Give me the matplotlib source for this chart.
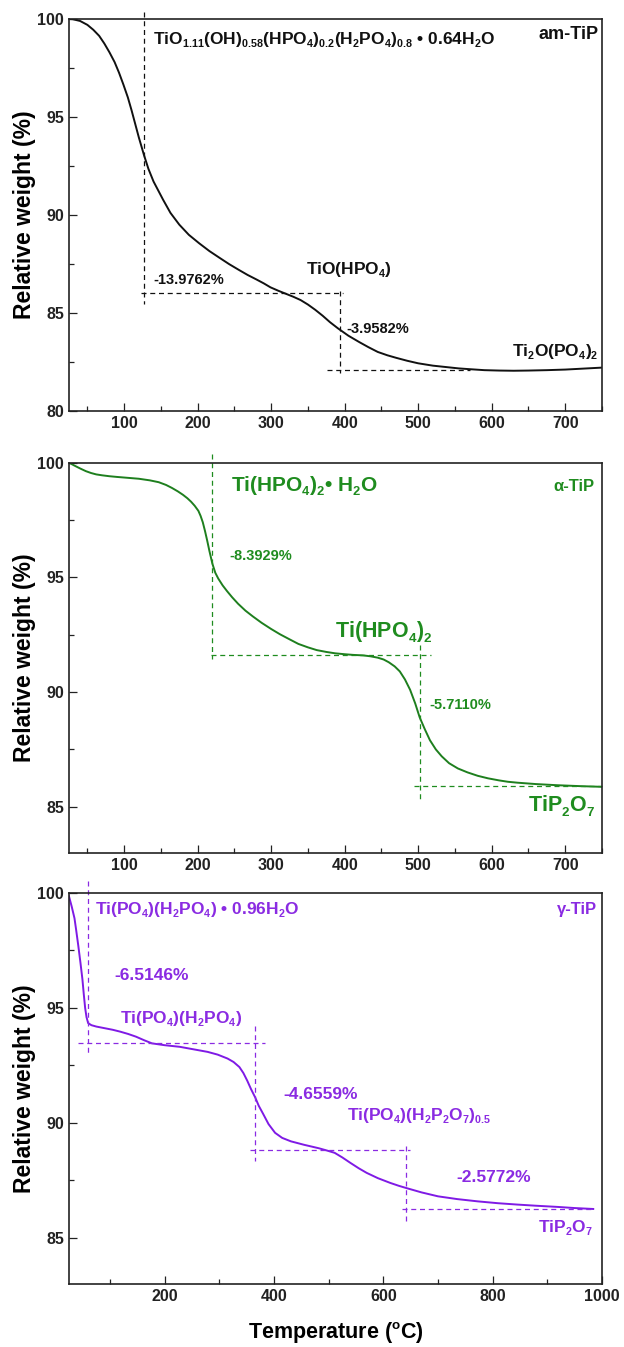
import matplotlib
matplotlib.use("Agg")
import matplotlib.pyplot as plt
from matplotlib.ticker import MultipleLocator

# smaller, lower subscripts (closer to the original figure)
try:
    import matplotlib._mathtext as mt
    mt.SHRINK_FACTOR = 0.62
    mt.FontConstantsBase.sub1 = 0.42
    mt.FontConstantsBase.sub2 = 0.55
except Exception:
    pass

# --- data ---
am_T = [25, 30, 40, 50, 58, 66, 73, 80, 87, 93, 99, 105, 110, 115, 120, 127, 133, 140, 147,
        153, 163, 175, 188, 202, 216, 230, 243, 256, 268, 280, 290, 299, 310, 320, 330, 340,
        350, 360, 370, 380, 391, 405, 420, 432, 445, 458, 470, 485, 500, 520, 540, 555, 570,
        590, 610, 630, 650, 675, 700, 725, 750]
am_W = [100, 99.99, 99.9, 99.7, 99.45, 99.14, 98.75, 98.3, 97.8, 97.26, 96.65, 96.0, 95.35,
        94.65, 93.95, 93.05, 92.35, 91.7, 91.2, 90.77, 90.1, 89.5, 88.98, 88.55, 88.15, 87.8,
        87.48, 87.19, 86.93, 86.7, 86.5, 86.3, 86.12, 85.97, 85.82, 85.65, 85.42, 85.15,
        84.85, 84.52, 84.2, 83.83, 83.5, 83.25, 83.0, 82.83, 82.7, 82.55, 82.42, 82.3, 82.22,
        82.16, 82.12, 82.07, 82.05, 82.04, 82.05, 82.07, 82.1, 82.15, 82.2]

alpha_T = [25, 32, 40, 48, 55, 62, 70, 80, 90, 105, 120, 135, 147, 157, 165, 173, 180, 186,
           191, 196, 201, 204, 207, 210, 213, 216, 220, 224, 228, 234, 240, 247, 255, 265,
           275, 287, 300, 312, 325, 337, 350, 362, 375, 387, 400, 412, 425, 435, 445, 453,
           460, 468, 475, 482, 489, 496, 502, 509, 516, 524, 532, 542, 554, 567, 581, 595,
           610, 622, 635, 660, 689, 720, 750]
alpha_W = [100, 99.88, 99.75, 99.63, 99.55, 99.49, 99.45, 99.41, 99.38, 99.34, 99.3, 99.23,
           99.15, 99.03, 98.9, 98.75, 98.6, 98.45, 98.3, 98.12, 97.9, 97.68, 97.4, 97.02,
           96.6, 96.15, 95.6, 95.2, 94.95, 94.65, 94.4, 94.13, 93.85, 93.55, 93.3, 93.02,
           92.75, 92.52, 92.3, 92.1, 91.95, 91.83, 91.75, 91.69, 91.65, 91.62, 91.6, 91.56,
           91.5, 91.42, 91.3, 91.12, 90.9, 90.55, 90.1, 89.5, 88.9, 88.38, 87.9, 87.5, 87.2,
           86.9, 86.67, 86.5, 86.35, 86.24, 86.15, 86.09, 86.05, 85.99, 85.94, 85.9, 85.87]

gamma_T = [25, 30, 35, 38, 42, 46, 49.5, 52, 54.5, 57, 60, 66, 75, 90, 105, 118.5, 133,
           147.6, 162, 176.7, 200, 227.6, 253, 278.5, 297, 315, 326, 336.7, 344, 351, 358,
           365.8, 372, 380, 390, 402, 415, 431, 455, 482, 497, 511, 525, 540, 555, 569.5,
           590, 613, 628, 642, 670, 700, 735, 773, 810, 846, 880, 918.5, 950, 984]
gamma_W = [99.85, 99.4, 98.9, 98.4, 97.7, 96.95, 96.25, 95.6, 95.0, 94.6, 94.34, 94.25,
           94.19, 94.12, 94.05, 93.97, 93.87, 93.75, 93.6, 93.46, 93.38, 93.31, 93.2, 93.09,
           92.97, 92.8, 92.65, 92.43, 92.17, 91.84, 91.47, 91.1, 90.75, 90.4, 89.95, 89.57,
           89.35, 89.2, 89.05, 88.9, 88.8, 88.7, 88.5, 88.26, 88.03, 87.83, 87.6, 87.39,
           87.27, 87.17, 86.98, 86.81, 86.69, 86.59, 86.51, 86.45, 86.4, 86.35, 86.3, 86.26]

# guide lines: (x list, y list)
am_guides = [([127, 127], [100.35, 85.47]), ([123, 398], [86.02, 86.02]),
             ([393, 393], [86.1, 81.9]), ([376, 570], [82.07, 82.07])]
alpha_guides = [([220, 220], [100.4, 91.45]), ([218, 518], [91.61, 91.61]),
                ([502, 502], [92.05, 85.3]), ([494, 750], [85.9, 85.9])]
gamma_guides = [([60.3, 60.3], [100.5, 92.94]), ([42, 384], [93.49, 93.49]),
                ([365.8, 365.8], [94.2, 88.33]), ([357, 648], [88.83, 88.83]),
                ([642, 642], [88.99, 85.72]), ([635, 984], [86.25, 86.25])]

# labels: (x, y, text, size, ha)
am_labels = [
    (138.7, 98.93, r'$\mathrm{TiO_{1.11}(OH)_{0.58}(HPO_4)_{0.2}(H_2PO_4)_{0.8}}$ • $\mathrm{0.64H_2O}$', 12.5, 'left'),
    (746, 99.2, 'am-TiP', 13, 'right'),
    (139.6, 86.65, '-13.9762%', 10.5, 'left'),
    (348, 87.2, r'$\mathrm{TiO(HPO_4)}$', 12.5, 'left'),
    (402.8, 84.18, '-3.9582%', 10.5, 'left'),
    (745, 83.0, r'$\mathrm{Ti_2O(PO_4)_2}$', 12.5, 'right'),
]
alpha_labels = [
    (246, 98.97, r'$\mathrm{Ti(HPO_4)_2}$• $\mathrm{H_2O}$', 15, 'left'),
    (740, 98.97, 'α-TiP', 12, 'right'),
    (243, 95.95, '-8.3929%', 10.5, 'left'),
    (387, 92.6, r'$\mathrm{Ti(HPO_4)_2}$', 15.5, 'left'),
    (514.6, 89.42, '-5.7110%', 10.5, 'left'),
    (741, 85.0, r'$\mathrm{TiP_2O_7}$', 15.5, 'right'),
]
gamma_labels = [
    (72.7, 99.26, r'$\mathrm{Ti(PO_4)(H_2PO_4)}$ • $\mathrm{0.96H_2O}$', 12.5, 'left'),
    (991, 99.26, 'γ-TiP', 12, 'right'),
    (107.6, 96.4, '-6.5146%', 12.5, 'left'),
    (118.5, 94.5, r'$\mathrm{Ti(PO_4)(H_2PO_4)}$', 12.5, 'left'),
    (416.7, 91.25, '-4.6559%', 12.5, 'left'),
    (533, 90.3, r'$\mathrm{Ti(PO_4)(H_2P_2O_7)_{0.5}}$', 12.5, 'left'),
    (733, 87.65, '-2.5772%', 12.5, 'left'),
    (984, 85.43, r'$\mathrm{TiP_2O_7}$', 12.5, 'right'),
]

plt.rcParams['font.family'] = ['Liberation Sans', 'DejaVu Sans']
plt.rcParams['font.weight'] = 'bold'
plt.rcParams['mathtext.fontset'] = 'custom'
plt.rcParams['mathtext.rm'] = 'Liberation Sans:bold'
plt.rcParams['mathtext.bf'] = 'Liberation Sans:bold'
plt.rcParams['mathtext.it'] = 'Liberation Sans:bold'
plt.rcParams['mathtext.default'] = 'rm'


def style(ax, xmax, xstep, ymin):
    ax.set_xlim(25, xmax)
    ax.set_ylim(ymin, 100)
    ax.xaxis.set_major_locator(MultipleLocator(xstep))
    ax.xaxis.set_minor_locator(MultipleLocator(xstep / 2))
    ax.yaxis.set_major_locator(MultipleLocator(5))
    ax.yaxis.set_minor_locator(MultipleLocator(2.5))
    ax.tick_params(which='both', direction='in', top=False, right=False, width=0.9,
                   labelsize=11.5, colors='#222222')
    ax.tick_params(which='major', length=5.5)
    ax.tick_params(which='minor', length=3.5)
    for s in ax.spines.values():
        s.set_linewidth(1.2)
        s.set_color('#222222')
    ax.set_ylabel('Relative weight (%)', fontsize=16.5, fontweight='bold')
    ax.yaxis.set_label_coords(-0.062, 0.5)


def draw(ax, T, W, guides, labels, line_c, text_c):
    ax.plot(T, W, color=line_c, lw=1.4)
    for gx, gy in guides:
        ax.plot(gx, gy, color=text_c, lw=0.9, ls=(0, (4, 3)), clip_on=False)
    for x, y, s, fs, ha in labels:
        ax.text(x, y, s, color=text_c, fontsize=fs, ha=ha, va='center', fontweight='bold')


fig = plt.figure(figsize=(6.24, 13.47), dpi=100)
ax1 = fig.add_axes([0.1106, 0.6951, 0.8541, 0.2908])
ax2 = fig.add_axes([0.1106, 0.3670, 0.8541, 0.2895])
ax3 = fig.add_axes([0.1106, 0.0468, 0.8541, 0.2903])

style(ax1, 750, 100, 80)
style(ax2, 750, 100, 83)
style(ax3, 1000, 200, 83)

draw(ax1, am_T, am_W, am_guides, am_labels, '#111111', '#111111')
draw(ax2, alpha_T, alpha_W, alpha_guides, alpha_labels, '#1E7F1E', '#1F8C1F')
draw(ax3, gamma_T, gamma_W, gamma_guides, gamma_labels, '#7F1AE5', '#8A2BE2')

ax3.set_xlabel(r'Temperature ($^{\rm o}$C)', fontsize=15.5, fontweight='bold', labelpad=12)

fig.savefig('out.png', dpi=100)
